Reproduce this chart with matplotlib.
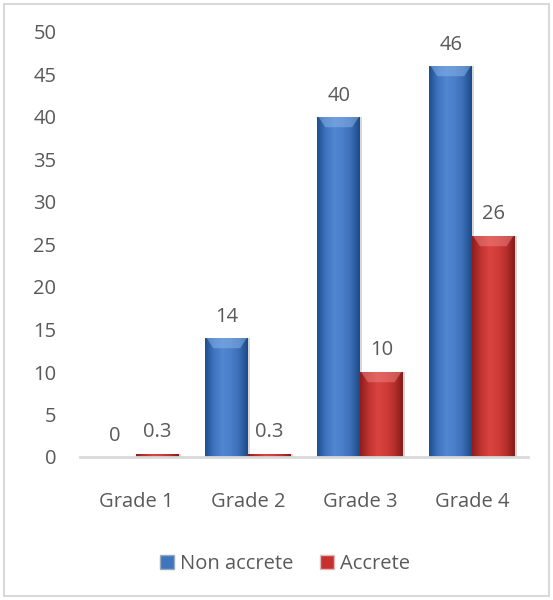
import numpy as np
import matplotlib
matplotlib.use("Agg")
import matplotlib.pyplot as plt
from matplotlib.patches import Patch, Rectangle
from matplotlib.colors import LinearSegmentedColormap

categories = ["Grade 1", "Grade 2", "Grade 3", "Grade 4"]
non_accrete = [0, 14, 40, 46]
accrete = [0.3, 0.3, 10, 26]
non_labels = ["0", "14", "40", "46"]
acc_labels = ["0.3", "0.3", "10", "26"]
yticks = [0, 5, 10, 15, 20, 25, 30, 35, 40, 45, 50]

plt.rcParams['font.family'] = ['Open Sans', 'DejaVu Sans']
TXT = '#595959'
FS = 14.5

fig = plt.figure(figsize=(5.53, 6.0), dpi=100)
ax = fig.add_axes([80/553, 143/600, 448/553, 425/600])
ax.set_xlim(-0.5, 3.5)
ax.set_ylim(0, 50)

x = np.arange(len(categories))
w = 0.38
b1 = ax.bar(x - w/2, non_accrete, w, color='#4a7ec8', zorder=2)
b2 = ax.bar(x + w/2, accrete, w, color='#d23f3c', zorder=2)

blue_cm = LinearSegmentedColormap.from_list('b', ['#1f4f8f', '#3f74bf', '#5087d1', '#4a80c9', '#3a6db5', '#1d4a88'])
red_cm = LinearSegmentedColormap.from_list('r', ['#8e1f1d', '#c0322f', '#d9433f', '#d13d3a', '#b8302d', '#861c1a'])
grad = np.linspace(0, 1, 64).reshape(1, -1)

def style(bars, cm, top_col):
    for p in bars:
        x0, y0 = p.get_x(), p.get_y()
        pw, ph = p.get_width(), p.get_height()
        if ph <= 0:
            p.set_visible(False)
            continue
        sh = Rectangle((x0 + 0.02, y0), pw, ph, facecolor='#c8c8c8', edgecolor='none', zorder=1, alpha=0.7)
        ax.add_patch(sh)
        im = ax.imshow(grad, cmap=cm, extent=[x0, x0 + pw, y0, y0 + ph], aspect='auto', zorder=3)
        im.set_clip_path(p)
        bh = min(ph * 0.5, 1.2)
        if ph > 2:
            ax.fill([x0 + 0.01, x0 + pw - 0.01, x0 + pw - 0.07, x0 + 0.07],
                    [y0 + ph, y0 + ph, y0 + ph - bh, y0 + ph - bh],
                    color=top_col, alpha=0.5, lw=0, zorder=4)

style(b1, blue_cm, '#8fb6ea')
style(b2, red_cm, '#ee8583')

for i in range(len(categories)):
    ax.annotate(non_labels[i], (x[i] - w/2, non_accrete[i]), xytext=(0, 11), textcoords='offset pixels',
                ha='center', va='bottom', fontsize=FS, color=TXT)
    ax.annotate(acc_labels[i], (x[i] + w/2, accrete[i]), xytext=(0, 12), textcoords='offset pixels',
                ha='center', va='bottom', fontsize=FS, color=TXT)

ax.set_xticks(x)
ax.set_xticklabels(categories, fontsize=FS, color=TXT)
ax.set_yticks(yticks)
ax.set_yticklabels([str(t) for t in yticks], fontsize=FS, color=TXT)
ax.tick_params(axis='x', length=0, pad=25)
ax.tick_params(axis='y', length=0, pad=17)
for s in ['top', 'right', 'left']:
    ax.spines[s].set_visible(False)
ax.spines['bottom'].set_color('#d9d9d9')
ax.spines['bottom'].set_linewidth(2)
ax.spines['bottom'].set_zorder(5)

handles = [Patch(facecolor='#3f74bf', edgecolor='#9ab'), Patch(facecolor='#c8302d', edgecolor='#dbb')]
fig.legend(handles, ['Non accrete', 'Accrete'], loc='center', bbox_to_anchor=(285/553, 1 - 564/600),
           ncol=2, frameon=False, fontsize=FS, labelcolor=TXT, handlelength=0.7, handleheight=0.7,
           handletextpad=0.3, columnspacing=1.3)

fig.add_artist(Rectangle((4/553, 4/600), 545/553, 592/600, transform=fig.transFigure,
                         fill=False, edgecolor='#d9d9d9', lw=1.5))

fig.savefig('out.png', dpi=100)
